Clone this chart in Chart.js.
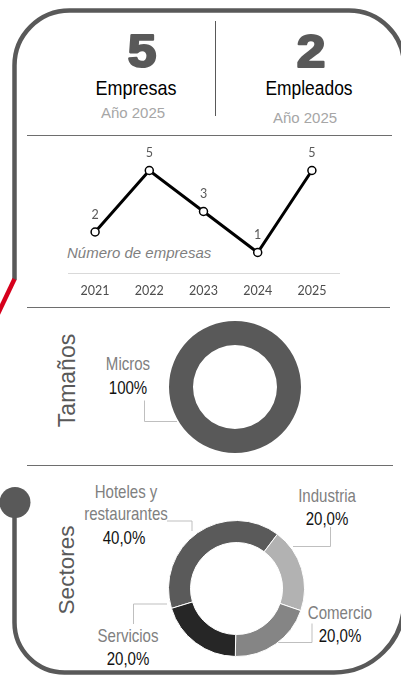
<!DOCTYPE html>
<html lang="es">
<head>
<meta charset="utf-8">
<title>Empresas y empleados</title>
<script src="https://cdn.jsdelivr.net/npm/chart.js@4.4.1/dist/chart.umd.min.js"></script>
<style>
  html, body { margin: 0; padding: 0; background: #ffffff; }
  #page { position: relative; width: 401px; height: 676px; overflow: hidden; }
  #deco { position: absolute; left: 0; top: 0; }
  canvas { position: absolute; }
</style>
</head>
<body>
<div id="page">
  <svg id="deco" width="401" height="676" xmlns="http://www.w3.org/2000/svg">
    <!-- outer frame -->
    <path d="M14.5 280 L14.5 65.5 A55 55 0 0 1 69.5 10.5 L349 10.5 A55 55 0 0 1 404 65.5 L404 602.5 A70 70 0 0 1 334 672.5 L64.5 672.5 A50 50 0 0 1 14.5 622.5 L14.5 502"
          fill="none" stroke="#595959" stroke-width="4.5"/>
    <line x1="14.5" y1="279" x2="-4" y2="318" stroke="#d6001c" stroke-width="4.5"/>
    <circle cx="15" cy="502.5" r="15.5" fill="#595959"/>
    <!-- section separators -->
    <line x1="215.5" y1="21" x2="215.5" y2="116" stroke="#595959" stroke-width="1"/>
    <line x1="27" y1="135.5" x2="392" y2="135.5" stroke="#6e6e6e" stroke-width="1.2"/>
    <line x1="27" y1="307.5" x2="390" y2="307.5" stroke="#6e6e6e" stroke-width="1.2"/>
    <line x1="27" y1="465.5" x2="393" y2="465.5" stroke="#6e6e6e" stroke-width="1.2"/>
    <g id="texts"></g>
  </svg>
  <canvas id="trend" width="330" height="165" style="left:40px;top:140px;width:330px;height:165px"></canvas>
  <canvas id="sizes" width="132" height="132" style="left:169px;top:321px;width:132px;height:132px"></canvas>
  <canvas id="sectors" width="137" height="137" style="left:168px;top:520px;width:137px;height:137px"></canvas>
</div>
<script>
// ---- data ----
const years = ['2021', '2022', '2023', '2024', '2025'];
const companiesPerYear = [2, 5, 3, 1, 5];
const employees = 2;
const reportYear = 2025;

const sizeLabels = ['Micros'];
const sizeShares = [100];

const sectorLabels = [['Hoteles y', 'restaurantes'], 'Industria', 'Comercio', 'Servicios'];
const sectorShares = [40, 20, 20, 20];

// ---- styling ----
const sizeColors = ['#595959'];
const sectorColors = ['#5a5a5a', '#b2b2b2', '#858585', '#262626'];
const SANS = 'Liberation Sans, Arial, sans-serif';

Chart.defaults.font.family = 'Lato, "Open Sans", sans-serif';
Chart.defaults.animation = false;

// ---- svg text helpers ----
const SVGNS = 'http://www.w3.org/2000/svg';
const textLayer = document.getElementById('texts');
function addText(str, x, y, opts) {
  const t = document.createElementNS(SVGNS, 'text');
  t.setAttribute('text-anchor', opts.anchor || 'middle');
  t.style.fontFamily = opts.family || SANS;
  t.style.fontSize = opts.size + 'px';
  t.setAttribute('fill', opts.fill || '#000');
  if (opts.weight) t.style.fontWeight = opts.weight;
  if (opts.italic) t.style.fontStyle = 'italic';
  if (opts.stroke) {
    t.setAttribute('stroke', opts.fill);
    t.setAttribute('stroke-width', opts.stroke);
    t.setAttribute('stroke-linejoin', 'round');
  }
  // text is placed at the origin and moved/condensed with a transform
  const rot = opts.rotate ? ` rotate(${opts.rotate})` : '';
  const sx = opts.sx || 1;
  t.setAttribute('x', 0);
  t.setAttribute('y', 0);
  t.setAttribute('transform', `translate(${x} ${y})${rot} scale(${sx} 1)`);
  t.textContent = str;
  textLayer.appendChild(t);
  return t;
}
function addPolyline(points) {
  const p = document.createElementNS(SVGNS, 'polyline');
  p.setAttribute('points', points.map(q => q.join(',')).join(' '));
  p.setAttribute('fill', 'none');
  p.setAttribute('stroke', '#bfbfbf');
  p.setAttribute('stroke-width', '1');
  textLayer.appendChild(p);
}

// ---- headline figures ----
const companiesNow = companiesPerYear[years.indexOf(String(reportYear))];
addText(String(companiesNow), 142, 67, { size: 46, weight: 'bold', fill: '#595959', stroke: 2.2, sx: 1.12 });
addText('Empresas', 136, 94.5, { size: 20, sx: 0.9, fill: '#000' });
addText('Año ' + reportYear, 133, 118, { size: 15, fill: '#a6a6a6' });

addText(String(employees), 311, 67, { size: 46, weight: 'bold', fill: '#595959', stroke: 2.2, sx: 1.12 });
addText('Empleados', 309, 94.5, { size: 20, sx: 0.87, fill: '#000' });
addText('Año ' + reportYear, 305, 123, { size: 15, fill: '#a6a6a6' });

// ---- line chart caption ----
addText('Número de empresas', 67, 258, { size: 15, italic: true, anchor: 'start', fill: '#7f7f7f' });

// ---- side titles ----
addText('Tamaños', 75, 380.5, { size: 23, fill: '#595959', rotate: -90 });
addText('Sectores', 74, 570, { size: 22.5, fill: '#595959', rotate: -90 });

// ---- doughnut callouts ----
const fmtSize = v => v + '%';
const fmtSector = v => v.toFixed(1).replace('.', ',') + '%';
const CALLOUT = { size: 17.5, sx: 0.86 };
function callout(label, valueText, cx, y, lineGap) {
  const lines = Array.isArray(label) ? label : [label];
  lines.forEach((ln, i) => addText(ln, cx, y + i * (lineGap - 1.5), { ...CALLOUT, fill: '#808080' }));
  addText(valueText, cx - (lines.length > 1 ? 2 : 0), y + (lines.length - 1) * (lineGap - 1.5) + lineGap,
    { ...CALLOUT, fill: '#111' });
}
callout(sizeLabels[0], fmtSize(sizeShares[0]), 128, 369.5, 24.5);
addPolyline([[144.5, 400.5], [144.5, 421.5], [177, 421.5]]);

const sectorCallouts = [
  { cx: 126, y: 497.5, gap: 24, leader: [[167, 521], [192, 521], [192, 531]] },
  { cx: 327, y: 501.5, gap: 23.5, leader: [[293, 546.5], [330.5, 546.5], [330.5, 527]] },
  { cx: 340, y: 619, gap: 23, leader: [[277, 642.5], [312, 642.5], [312, 623.5]] },
  { cx: 128, y: 641.5, gap: 23.5, leader: [[167, 604], [133.5, 604], [133.5, 624]] }
];
sectorLabels.forEach((lab, i) => {
  const c = sectorCallouts[i];
  callout(lab, fmtSector(sectorShares[i]), c.cx, c.y, c.gap);
  addPolyline(c.leader);
});

// ---- value labels above line points ----
const pointValueLabels = {
  id: 'pointValueLabels',
  afterDatasetsDraw(chart) {
    const { ctx } = chart;
    const meta = chart.getDatasetMeta(0);
    const values = chart.data.datasets[0].data;
    ctx.save();
    ctx.font = '12.5px Lato, "Open Sans", sans-serif';
    ctx.fillStyle = '#595959';
    ctx.textAlign = 'center';
    ctx.textBaseline = 'middle';
    meta.data.forEach((pt, i) => ctx.fillText(String(values[i]), pt.x, pt.y - 17.5));
    ctx.restore();
  }
};

// ---- companies per year ----
new Chart(document.getElementById('trend'), {
  type: 'line',
  data: {
    labels: years,
    datasets: [{
      data: companiesPerYear,
      borderColor: '#000000',
      borderWidth: 3,
      tension: 0,
      pointRadius: 4,
      pointBorderWidth: 1.5,
      pointBackgroundColor: '#ffffff',
      pointBorderColor: '#000000',
      clip: false
    }]
  },
  options: {
    responsive: false,
    layout: { padding: { left: 28, right: 31, top: 10, bottom: 0 } },
    plugins: { legend: { display: false }, tooltip: { enabled: false } },
    scales: {
      x: {
        offset: true,
        grid: { display: true, drawOnChartArea: false, drawTicks: false, color: 'rgba(0,0,0,0)' },
        border: { display: true, color: '#d9d9d9', width: 1 },
        ticks: { color: '#4d4d4d', font: { size: 12.5 }, padding: 10.5, maxRotation: 0 },
        afterFit: s => { s.height = 32; }
      },
      y: { display: false, min: 0, max: 6 }
    }
  },
  plugins: [pointValueLabels]
});

// ---- company sizes ----
new Chart(document.getElementById('sizes'), {
  type: 'doughnut',
  data: {
    labels: sizeLabels,
    datasets: [{ data: sizeShares, backgroundColor: sizeColors, borderWidth: 0 }]
  },
  options: {
    responsive: false,
    cutout: 42,
    plugins: { legend: { display: false }, tooltip: { enabled: false } }
  }
});

// ---- sectors ----
new Chart(document.getElementById('sectors'), {
  type: 'doughnut',
  data: {
    labels: sectorLabels,
    datasets: [{ data: sectorShares, backgroundColor: sectorColors, borderColor: '#ffffff', borderWidth: 1 }]
  },
  options: {
    responsive: false,
    rotation: -107,
    cutout: 46,
    plugins: { legend: { display: false }, tooltip: { enabled: false } }
  }
});
</script>
</body>
</html>
